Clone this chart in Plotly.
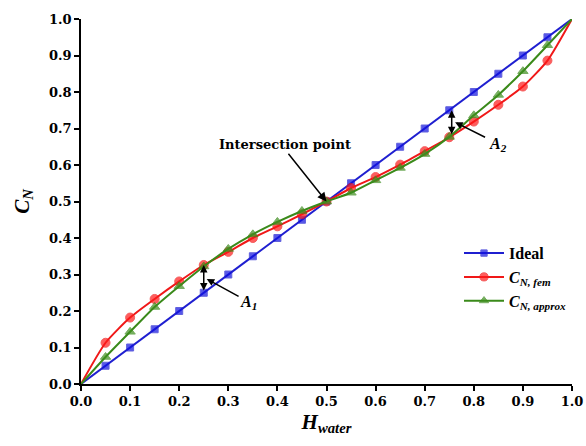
import plotly.graph_objects as go

h_water = [0.0, 0.05, 0.1, 0.15, 0.2, 0.25, 0.3, 0.35, 0.4, 0.45, 0.5,
           0.55, 0.6, 0.65, 0.7, 0.75, 0.8, 0.85, 0.9, 0.95, 1.0]
ideal = [0.0, 0.05, 0.1, 0.15, 0.2, 0.25, 0.3, 0.35, 0.4, 0.45, 0.5,
         0.55, 0.6, 0.65, 0.7, 0.75, 0.8, 0.85, 0.9, 0.95, 1.0]
cn_fem = [0.0, 0.113, 0.182, 0.233, 0.281, 0.326, 0.362, 0.400, 0.432, 0.465, 0.5,
          0.537, 0.567, 0.601, 0.638, 0.676, 0.719, 0.765, 0.815, 0.886, 1.0]
cn_approx = [0.0, 0.074, 0.143, 0.211, 0.268, 0.322, 0.370, 0.410, 0.444, 0.474, 0.5,
             0.524, 0.558, 0.592, 0.630, 0.677, 0.736, 0.792, 0.857, 0.928, 1.0]
x_ticks = [0.0, 0.1, 0.2, 0.3, 0.4, 0.5, 0.6, 0.7, 0.8, 0.9, 1.0]
y_ticks = [0.0, 0.1, 0.2, 0.3, 0.4, 0.5, 0.6, 0.7, 0.8, 0.9, 1.0]

FONT = "DejaVu Serif"
IFONT = "Liberation Serif"

def sizes(n, s):
    return [0] + [s] * (n - 2) + [0]

fig = go.Figure()
fig.add_trace(go.Scatter(
    x=h_water, y=ideal, mode="lines+markers", name="<b>Ideal</b>", legendgroup="a",
    line=dict(color="#1f1fd0", width=2),
    marker=dict(symbol="square", size=sizes(len(h_water), 7), color="#1010e0"),
))
fig.add_trace(go.Scatter(
    x=h_water, y=cn_fem, mode="lines+markers", legendgroup="b",
    name="<b><i>C</i></b><sub><b><i>N, fem</i></b></sub>",
    line=dict(color="#f01818", width=2, shape="spline", smoothing=0.6),
    marker=dict(symbol="circle", size=sizes(len(h_water), 9), color="#ff1a1a"),
))
fig.add_trace(go.Scatter(
    x=h_water, y=cn_approx, mode="lines+markers", legendgroup="c",
    name="<b><i>C</i></b><sub><b><i>N, approx</i></b></sub>",
    line=dict(color="#3a8a1a", width=2, shape="spline", smoothing=0.6),
    marker=dict(symbol="triangle-up", size=sizes(len(h_water), 9), color="#3f8f1f"),
))

arrow_common = dict(xref="x", yref="y", axref="x", ayref="y", showarrow=True,
                    arrowcolor="black", arrowwidth=1.5, text="")
annotations = [
    dict(x=0.5, y=0.5, ax=0.42, ay=0.635, arrowhead=2, arrowsize=1.2, **arrow_common),
    dict(x=0.25, y=0.326, ax=0.25, ay=0.252, arrowhead=2, startarrowhead=2,
         arrowside="end+start", arrowsize=1, **arrow_common),
    dict(x=0.256, y=0.288, ax=0.324, ay=0.238, arrowhead=2, arrowsize=1, **arrow_common),
    dict(x=0.755, y=0.75, ax=0.755, ay=0.68, arrowhead=2, startarrowhead=2,
         arrowside="end+start", arrowsize=1, **arrow_common),
    dict(x=0.762, y=0.717, ax=0.826, ay=0.674, arrowhead=2, arrowsize=1, **arrow_common),
    dict(x=0.415, y=0.657, xref="x", yref="y", showarrow=False,
         text="<b>Intersection point</b>", font=dict(family=FONT, size=13, color="black")),
    dict(x=0.342, y=0.224, xref="x", yref="y", showarrow=False,
         text="<b><i>A</i></b><sub><b><i>1</i></b></sub>", font=dict(family=IFONT, size=16, color="black")),
    dict(x=0.85, y=0.655, xref="x", yref="y", showarrow=False,
         text="<b><i>A</i></b><sub><b><i>2</i></b></sub>", font=dict(family=IFONT, size=16, color="black")),
]

fig.update_layout(
    width=586, height=446,
    margin=dict(l=81, r=14, t=17, b=62),
    paper_bgcolor="white", plot_bgcolor="white",
    font=dict(family=FONT, size=13, color="black"),
    showlegend=True,
    legend=dict(x=1.0, y=0.405, xanchor="right", yanchor="top",
                bgcolor="rgba(255,255,255,0)", font=dict(family=IFONT, size=16),
                itemwidth=40, tracegroupgap=0),
    annotations=annotations,
)
fig.update_xaxes(
    range=[0, 1.0], tickvals=x_ticks, ticktext=[f"<b>{v:.1f}</b>" for v in x_ticks],
    showline=True, linecolor="black", linewidth=1.5, ticks="outside", ticklen=5,
    tickwidth=1.5, tickcolor="black", showgrid=False, zeroline=False,
    tickfont=dict(family=FONT, size=13), automargin=False,
    title=dict(text="<b><i>H</i></b><sub><b><i>water</i></b></sub>",
               font=dict(family=IFONT, size=21), standoff=6),
)
fig.update_yaxes(
    range=[0, 1.0], tickvals=y_ticks, ticktext=[f"<b>{v:.1f}</b>" for v in y_ticks],
    showline=True, linecolor="black", linewidth=1.5, ticks="outside", ticklen=5,
    tickwidth=1.5, tickcolor="black", showgrid=False, zeroline=False,
    tickfont=dict(family=FONT, size=13),
    title=dict(text="<b><i>C</i></b><sub><b><i>N</i></b></sub>",
               font=dict(family=IFONT, size=21), standoff=14),
)

fig.write_html("out.html")
